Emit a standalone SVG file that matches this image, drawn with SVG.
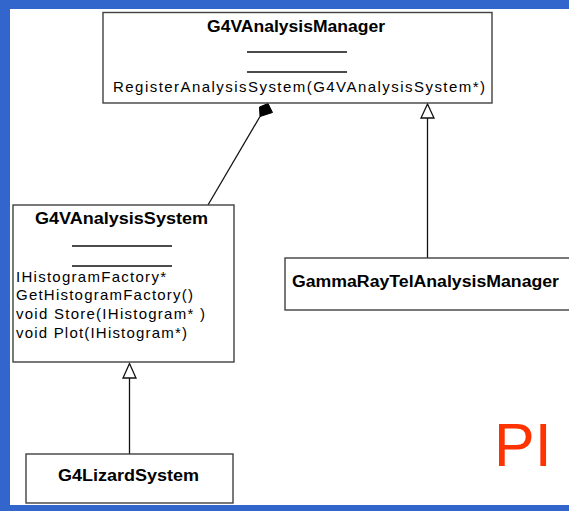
<svg xmlns="http://www.w3.org/2000/svg" width="569" height="511" viewBox="0 0 569 511">
<defs>
<style>
.frame{fill:#3366cc;}
.box{fill:#ffffff;stroke:#404040;stroke-width:1.4;}
.sep{stroke:#111111;stroke-width:1.3;}
.title{font-family:"Liberation Sans",Arial,sans-serif;font-weight:bold;font-size:16px;fill:#000000;}
.op{font-family:"Liberation Sans",Arial,sans-serif;font-size:15px;fill:#000000;}
.conn{stroke:#111111;stroke-width:1.3;fill:none;}
.gen{fill:#ffffff;stroke:#111111;stroke-width:1.3;}
.comp{fill:#000000;stroke:#000000;stroke-width:1;}
.pi{font-family:"Liberation Sans",Arial,sans-serif;font-size:61px;fill:#ff3300;}
</style>
</defs>
<rect x="0" y="0" width="569" height="511" fill="#ffffff"/>
<rect class="frame" x="0" y="0" width="569" height="9"/>
<rect class="frame" x="0" y="0" width="10" height="511"/>
<rect class="frame" x="0" y="505" width="569" height="6"/>

<g id="connectors">
<line class="conn" x1="260" y1="116.5" x2="208" y2="205"/>
<polygon class="comp" points="268,103.5 272.5,112.5 260,116.5 259.5,107"/>
<line class="conn" x1="427.5" y1="118" x2="427.5" y2="258"/>
<polygon class="gen" points="427.5,104 421,118 434,118"/>
<line class="conn" x1="129.5" y1="378" x2="129.5" y2="454"/>
<polygon class="gen" points="129.5,363.5 123,378 136,378"/>
</g>

<g id="G4VAnalysisManager">
<rect class="box" x="103" y="12.5" width="389" height="90.5"/>
<text class="title" x="207" y="32" textLength="178" lengthAdjust="spacingAndGlyphs">G4VAnalysisManager</text>
<line class="sep" x1="247" y1="52" x2="347" y2="52"/>
<line class="sep" x1="247" y1="72" x2="347" y2="72"/>
<text class="op" x="113" y="92" textLength="372" lengthAdjust="spacing">RegisterAnalysisSystem(G4VAnalysisSystem*)</text>
</g>

<g id="G4VAnalysisSystem">
<rect class="box" x="13" y="205" width="221" height="157"/>
<text class="title" x="35" y="224" textLength="173" lengthAdjust="spacingAndGlyphs">G4VAnalysisSystem</text>
<line class="sep" x1="72" y1="246" x2="172" y2="246"/>
<line class="sep" x1="72" y1="266" x2="172" y2="266"/>
<text class="op" x="16" y="282" textLength="150" lengthAdjust="spacing">IHistogramFactory*</text>
<text class="op" x="16" y="300" textLength="177" lengthAdjust="spacing">GetHistogramFactory()</text>
<text class="op" x="16" y="319" textLength="189" lengthAdjust="spacing">void Store(IHistogram* )</text>
<text class="op" x="16" y="338" textLength="171" lengthAdjust="spacing">void Plot(IHistogram*)</text>
</g>

<g id="GammaRayTelAnalysisManager">
<rect class="box" x="285" y="258" width="290" height="52"/>
<text class="title" x="292" y="287" textLength="267" lengthAdjust="spacingAndGlyphs">GammaRayTelAnalysisManager</text>
</g>

<g id="G4LizardSystem">
<rect class="box" x="26" y="454" width="207" height="49"/>
<text class="title" x="58" y="481" textLength="141" lengthAdjust="spacingAndGlyphs">G4LizardSystem</text>
</g>

<text class="pi" x="494" y="466">PI</text>
</svg>
